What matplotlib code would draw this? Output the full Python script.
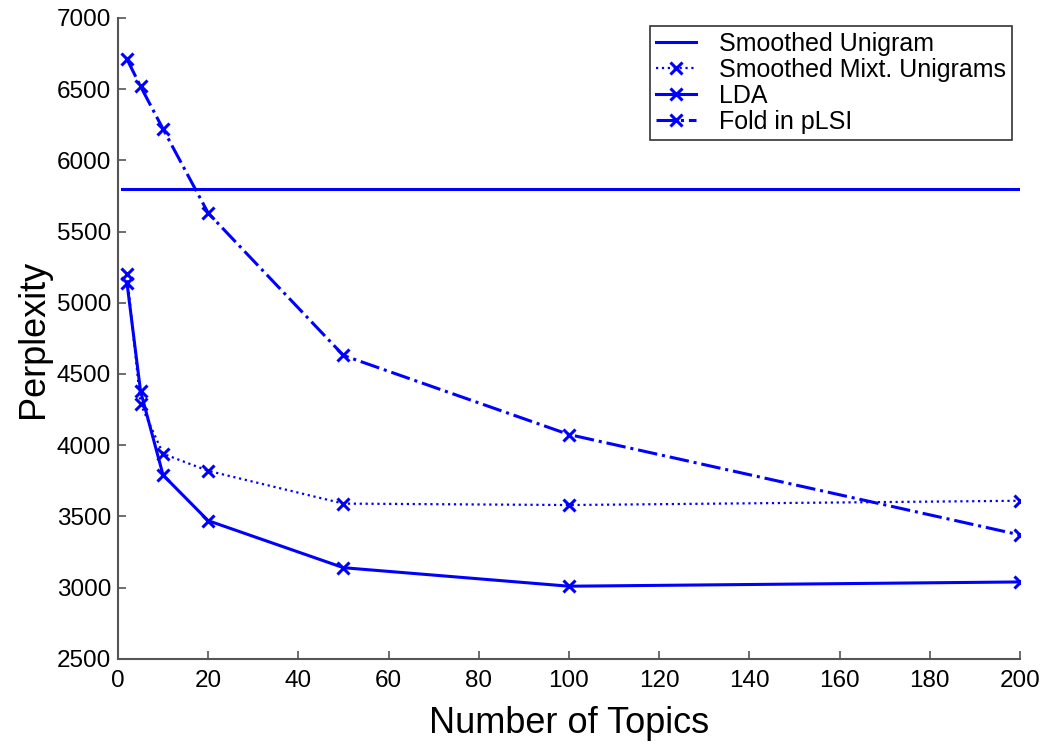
import matplotlib
matplotlib.use("Agg")
import matplotlib.pyplot as plt

# number of topics
topics = [2, 5, 10, 20, 50, 100, 200]

# perplexity per model
unigram_x = [1, 200]
unigram = [5800, 5800]
mixt_unigrams = [5200, 4290, 3940, 3820, 3590, 3580, 3610]
lda = [5140, 4380, 3790, 3470, 3140, 3010, 3040]
fold_plsi = [6710, 6520, 6220, 5630, 4630, 4075, 3370]

xticks = [0, 20, 40, 60, 80, 100, 120, 140, 160, 180, 200]
yticks = [2500, 3000, 3500, 4000, 4500, 5000, 5500, 6000, 6500, 7000]

plt.rcParams["font.family"] = ["Liberation Sans", "DejaVu Sans"]

fig = plt.figure(figsize=(10.44, 7.47), dpi=100)
ax = fig.add_axes([0.113, 0.118, 0.864, 0.858])

blue = (0, 0, 1)
mk = dict(marker="x", markersize=9, markeredgewidth=2.2)
ax.plot(unigram_x, unigram, color=blue, lw=2.2, label="Smoothed Unigram")
ax.plot(topics, mixt_unigrams, color=blue, lw=1.6, ls=":", label="Smoothed Mixt. Unigrams", **mk)
ax.plot(topics, lda, color=blue, lw=2.2, ls="-", label="LDA", **mk)
ax.plot(topics, fold_plsi, color=blue, lw=2.2, ls="-.", label="Fold in pLSI", **mk)

ax.set_xlim(0, 200)
ax.set_ylim(2500, 7000)
ax.set_xticks(xticks)
ax.set_yticks(yticks)
ax.tick_params(direction="in", length=6, width=1.2, color="#555555", labelsize=17.5)
ax.tick_params(axis="x", pad=8)
ax.tick_params(axis="y", pad=5)
for side in ["top", "right"]:
    ax.spines[side].set_visible(False)
for side in ["left", "bottom"]:
    ax.spines[side].set_color("#555555")
    ax.spines[side].set_linewidth(1.5)

ax.set_xlabel("Number of Topics", fontsize=26, labelpad=10)
ax.set_ylabel("Perplexity", fontsize=26, labelpad=4)

leg = ax.legend(loc="upper right", fontsize=18, frameon=True, fancybox=False,
                edgecolor="black", handlelength=1.6, borderpad=0.25,
                labelspacing=0.08, handletextpad=0.9, borderaxespad=0,
                bbox_to_anchor=(0.991, 0.988))
leg.get_frame().set_linewidth(1.2)

fig.savefig("out.png", dpi=100)
